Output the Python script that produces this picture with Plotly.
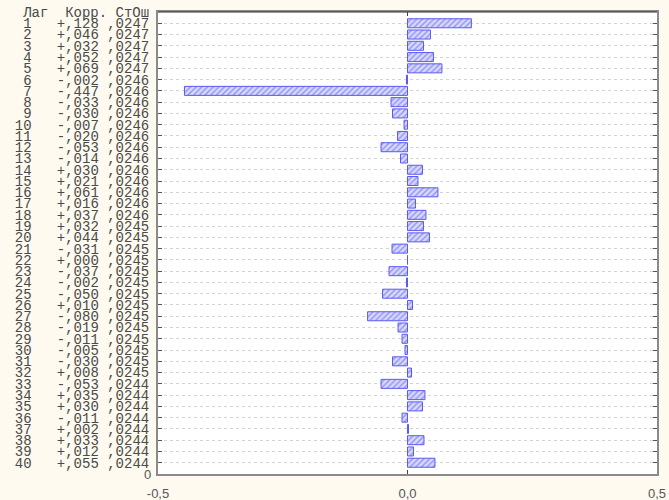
import plotly.graph_objects as go

lags = list(range(1, 41))
corr = [0.128, 0.046, 0.032, 0.052, 0.069, -0.002, -0.447, -0.033, -0.030, -0.007,
        -0.020, -0.053, -0.014, 0.030, 0.021, 0.061, 0.016, 0.037, 0.032, 0.044,
        -0.031, 0.000, -0.037, -0.002, -0.050, 0.010, -0.080, -0.019, -0.011, -0.005,
        -0.030, 0.008, -0.053, 0.035, 0.030, -0.011, 0.002, 0.033, 0.012, 0.055]
se = [0.0247] * 5 + [0.0246] * 13 + [0.0245] * 14 + [0.0244] * 8
header = "Лаг  Корр. СтОш"
x_ticks = [-0.5, 0.0, 0.5]
x_ticktext = ["-0,5", "0,0", "0,5"]

NB = "\u00a0"
BG = "#fffaf0"


def fmt_corr(v):
    sign = "-" if v < 0 else "+"
    return sign + ("%.3f" % abs(v))[1:].replace(".", ",")


def fmt_se(v):
    return ("%.4f" % v)[1:].replace(".", ",")


row_text = [f"{l:>2}   {fmt_corr(c)} {fmt_se(s)}".replace(" ", NB)
            for l, c, s in zip(lags, corr, se)]

fig = go.Figure()
fig.add_trace(go.Bar(
    x=corr, y=lags, orientation="h", width=0.8,
    marker=dict(
        color="#d8d8ff",
        line=dict(color="#5a5af0", width=1),
        pattern=dict(shape="/", fgcolor="#4a4ae0", bgcolor="#d8d8ff", size=4, solidity=0.35),
    ),
    showlegend=False,
    hoverinfo="skip",
))

fig.update_layout(
    width=669, height=500,
    margin=dict(l=158, r=12, t=12, b=26, autoexpand=False),
    paper_bgcolor=BG,
    plot_bgcolor="#ffffff",
    bargap=0.2,
    xaxis=dict(
        range=[-0.5, 0.5], tickvals=x_ticks, ticktext=x_ticktext,
        showgrid=False, zeroline=False, automargin=False,
        showline=True, linecolor="#8a8a8a", linewidth=2, mirror="ticks",
        ticks="inside", ticklen=4, tickcolor="#444444",
        tickfont=dict(family="Liberation Sans", size=13, color="#555555"),
        ticklabelstandoff=6,
    ),
    yaxis=dict(
        range=[41, 0], tickvals=[0] + lags, ticktext=[header.replace(" ", NB)] + row_text,
        showgrid=True, gridcolor="#d4d4d4", griddash="dot", gridwidth=1,
        zeroline=False, automargin=False,
        showline=True, linecolor="#8a8a8a", linewidth=2, mirror="ticks",
        ticks="inside", ticklen=4, tickcolor="#555555",
        tickfont=dict(family="Liberation Mono", size=14, color="#4a4a4a"),
        ticklabelstandoff=4,
    ),
    shapes=[dict(type="line", xref="paper", yref="paper", x0=0, x1=1, y0=1, y1=1,
                 line=dict(color="#303030", width=1))],
    annotations=[dict(x=0, y=41, xref="paper", yref="y", text="0", showarrow=False,
                      xanchor="right", xshift=-5,
                      font=dict(family="Liberation Sans", size=13, color="#555555"))],
)

fig.write_html(
    "out.html",
    config={"displayModeBar": False},
    post_script=f"document.body.style.margin='0';document.body.style.background='{BG}';",
)
